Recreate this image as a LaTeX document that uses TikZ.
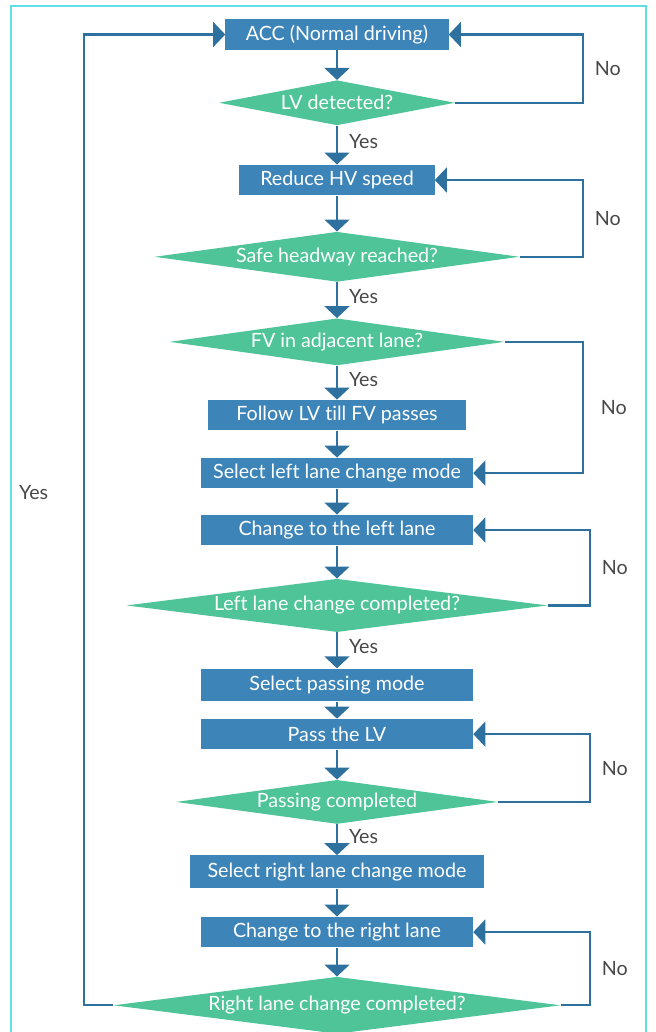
\documentclass[tikz,border=0pt]{standalone}
\usepackage{fontspec}
\setmainfont{Lato}[Ligatures={NoCommon,NoRare}]
\usepackage{xcolor}
\usepackage{tikz}
\usetikzlibrary{arrows.meta,positioning,shapes.geometric}
\definecolor{stepblue}{RGB}{61,133,184}
\definecolor{checkgreen}{RGB}{78,196,152}
\definecolor{flowline}{RGB}{46,112,158}
\definecolor{framecyan}{RGB}{96,222,230}
\definecolor{answergray}{RGB}{72,72,72}

\begin{document}
\begin{tikzpicture}[
        node distance=0.75cm,
        box/.style={rectangle, fill=stepblue, text=white, minimum height=0.76cm, inner sep=0pt, font=\fontsize{14}{16}\selectfont},
        check/.style={diamond, aspect=7, fill=checkgreen, text=white, inner sep=0pt, font=\fontsize{14}{16}\selectfont},
        arr/.style={-{Triangle[length=0.3cm,width=0.62cm]}, line width=2pt, draw=flowline},
        back/.style={arr, line width=1.6pt},
        answer/.style={text=answergray, font=\fontsize{14}{16}\selectfont},
        yes/.style={answer, right=0.15cm, pos=0.4}
    ]
    \useasboundingbox (-8.425,0.8625) rectangle (7.975,-24.9375);
    \draw[framecyan, line width=1.8pt] (-8.15,-25.3) -- (-8.15,0.7125) -- (7.725,0.7125) -- (7.725,-25.3);

    \node[box, minimum width=5.575cm] (acc) {ACC (Normal driving)};
    \node[check, below=0.75cm of acc, minimum width=5.9cm, minimum height=1.125cm] (lv) {LV detected?};
    \node[box, below=0.975cm of lv, minimum width=4.875cm] (reduce) {Reduce HV speed};
    \node[check, below=0.9cm of reduce, minimum width=9.125cm, minimum height=1.25cm] (headway) {Safe headway reached?};
    \node[check, below=0.9cm of headway, minimum width=8.375cm, minimum height=1.175cm] (fv) {FV in adjacent lane?};
    \node[box, below=0.85cm of fv, minimum width=6.45cm] (follow) {Follow LV till FV passes};
    \node[box, below=0.675cm of follow, minimum width=6.8cm] (selleft) {Select left lane change mode};
    \node[box, below=0.65cm of selleft, minimum width=6.8cm] (toleft) {Change to the left lane};
    \node[check, below=0.825cm of toleft, minimum width=10.525cm, minimum height=1.2cm] (leftdone) {Left lane change completed?};
    \node[box, below=0.9cm of leftdone, minimum width=6.8cm, minimum height=0.82cm] (selpass) {Select passing mode};
    \node[box, below=0.425cm of selpass, minimum width=6.8cm] (pass) {Pass the LV};
    \node[check, below=0.75cm of pass, minimum width=8.05cm, minimum height=1.1cm] (passdone) {Passing completed};
    \node[box, below=0.775cm of passdone, minimum width=7.35cm, minimum height=0.82cm] (selright) {Select right lane change mode};
    \node[box, below=0.7cm of selright, minimum width=6.8cm] (toright) {Change to the right lane};
    \node[check, below=0.725cm of toright, minimum width=11.175cm, minimum height=1.425cm] (rightdone) {Right lane change completed?};

    \coordinate (railA) at (6.15,0);
    \coordinate (railB) at (6.325,0);
    \coordinate (railL) at (-6.325,0);

    \draw[arr] (acc) -- (lv);
    \draw[arr] (lv) -- node[yes] {Yes} (reduce);
    \draw[arr] (reduce) -- (headway);
    \draw[arr] (headway) -- node[yes] {Yes} (fv);
    \draw[arr] (fv) -- node[yes] {Yes} (follow);
    \draw[arr] (follow) -- (selleft);
    \draw[arr] (selleft) -- (toleft);
    \draw[arr] (toleft) -- (leftdone);
    \draw[arr] (leftdone) -- node[yes] {Yes} (selpass);
    \draw[arr] (selpass) -- (pass);
    \draw[arr] (pass) -- (passdone);
    \draw[arr] (passdone) -- node[yes] {Yes} (selright);
    \draw[arr] (selright) -- (toright);
    \draw[arr] (toright) -- (rightdone);

    \draw[back] (lv.east) -- (lv.east -| railA) |- node[answer, pos=0.25, right=0.15cm] {No} (acc.east);
    \draw[back] (headway.east) -- (headway.east -| railA) |- node[answer, pos=0.25, right=0.15cm] {No} (reduce.east);
    \draw[back] (fv.east) -- (fv.east -| railA) |- node[answer, pos=0.25, right=0.3cm] {No} (selleft.east);
    \draw[back] (leftdone.east) -- (leftdone.east -| railB) |- node[answer, pos=0.25, right=0.15cm] {No} (toleft.east);
    \draw[back] (passdone.east) -- (passdone.east -| railB) |- node[answer, pos=0.25, right=0.15cm] {No} (pass.east);
    \draw[back] (rightdone.east) -- (rightdone.east -| railB) |- node[answer, pos=0.25, right=0.15cm] {No} (toright.east);
    \draw[back] (rightdone.west) -- (rightdone.west -| railL) |- node[answer, pos=0.264, left=0.75cm] {Yes} (acc.west);
\end{tikzpicture}
\end{document}
